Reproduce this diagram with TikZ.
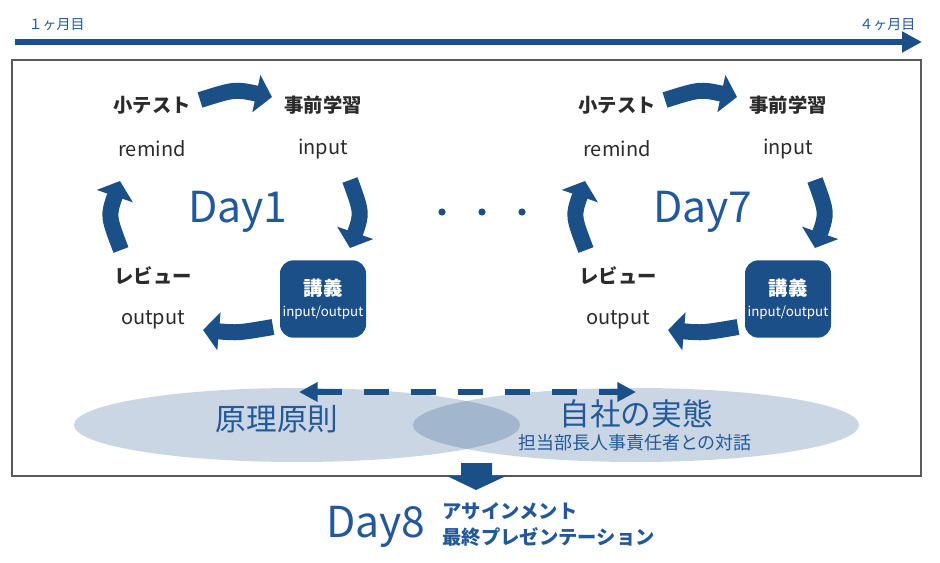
\documentclass[tikz,border=0pt]{standalone}
\usepackage{fontspec}
\setmainfont{Noto Sans CJK JP}
\usetikzlibrary{arrows.meta}
\definecolor{navy}{HTML}{1A4F87}
\definecolor{txtblue}{HTML}{23599A}
\definecolor{ink}{HTML}{2B2B2B}
\begin{document}
\begin{tikzpicture}[x=0.75pt,y=0.75pt,
    cyc/.style={navy,line width=12pt,-{Triangle[width=28pt,length=12pt]}},
    jalbl/.style={font=\bfseries\fontsize{14.5}{16}\selectfont,text=ink},
    enlbl/.style={font=\fontsize{15}{17}\selectfont,text=ink},
    daylbl/.style={font=\fontsize{32}{36}\selectfont,text=txtblue},
    blob/.style={fill=navy,fill opacity=0.23}]
    \useasboundingbox (0,0) rectangle (940,-563);
    % timeline
    \coordinate (t0) at (15,-42);
    \coordinate (t1) at (922,-42);
    \draw[navy,line width=4.5pt,-{Triangle[width=15pt,length=15pt]}] (t0) -- (t1);
    \node[anchor=west,text=txtblue,font=\fontsize{10.5}{12}\selectfont] (m1) at (24,-25) {１ヶ月目};
    \node[anchor=east,text=txtblue,font=\fontsize{10.5}{12}\selectfont] (m4) at (920,-25) {４ヶ月目};
    % frame
    \draw[black!65,line width=1.1pt] (12,-60) rectangle (921,-476);
    % two cycles
    \foreach \dx/\n in {0/1,465/7}{
    \begin{scope}[shift={(\dx,0)}]
        \node[jalbl] (quiz\n) at (152,-105) {小テスト};
        \node[enlbl] (remind\n) at (152,-149) {remind};
        \node[jalbl] (prep\n) at (323,-105) {事前学習};
        \node[enlbl] (input\n) at (323,-149) {input};
        \node[jalbl] (rev\n) at (153,-276) {レビュー};
        \node[enlbl] (output\n) at (153,-320) {output};
        \node[daylbl] (day\n) at (238,-212) {Day\n};
        \node[fill=navy,rounded corners=10pt,minimum width=64.5pt,minimum height=58pt] (lec\n) at (323,-299) {};
        \node[font=\bfseries\fontsize{14.5}{16}\selectfont,text=white] (lecj\n) at (323,-288) {講義};
        \node[font=\fontsize{10}{12}\selectfont,text=white] (lece\n) at (323,-313) {input/output};
        \coordinate (a\n) at (200,-100); \coordinate (b\n) at (272,-97);
        \coordinate (c\n) at (350,-180); \coordinate (d\n) at (350,-248);
        \coordinate (e\n) at (273,-327); \coordinate (f\n) at (203,-330);
        \coordinate (g\n) at (121,-250); \coordinate (h\n) at (120,-181);
        \draw[cyc] (a\n) .. controls (235,-89) .. (b\n);
        \draw[cyc] (c\n) .. controls (362,-213) .. (d\n);
        \draw[cyc] (e\n) .. controls (238,-333) .. (f\n);
        \draw[cyc] (g\n) .. controls (108,-216) .. (h\n);
    \end{scope}}
    \foreach \x in {442,482,522}
        \fill[navy] (\x,-212) circle [radius=3.6];
    % overlap
    \fill[blob] (297,-425) ellipse [x radius=223, y radius=37];
    \fill[blob] (636,-425) ellipse [x radius=223, y radius=37];
    \node[font=\fontsize{23}{26}\selectfont,text=txtblue] (theory) at (277,-419) {原理原則};
    \node[font=\fontsize{23}{26}\selectfont,text=txtblue] (real) at (636,-414) {自社の実態};
    \node[font=\fontsize{13.5}{15}\selectfont,text=txtblue] (talk) at (635,-443) {担当部長人事責任者との対話};
    \coordinate (p) at (299,-392);
    \coordinate (q) at (636,-392);
    \draw[navy,line width=4.5pt,dash pattern=on 18.75pt off 16.5pt,
        {Triangle[width=14pt,length=14pt]}-{Triangle[width=14pt,length=14pt]}] (p) -- (q);
    % to day 8
    \fill[navy] (461,-463) -- (492,-463) -- (492,-476) -- (506,-476) -- (476,-490)
        -- (447,-476) -- (461,-476) -- cycle;
    \node[daylbl] (day8) at (376,-527) {Day8};
    \node[anchor=west,align=left,inner sep=1pt,font=\bfseries\fontsize{14.5}{19.5}\selectfont,text=txtblue]
        (task) at (441,-525) {アサインメント\\最終プレゼンテーション};
\end{tikzpicture}
\end{document}
